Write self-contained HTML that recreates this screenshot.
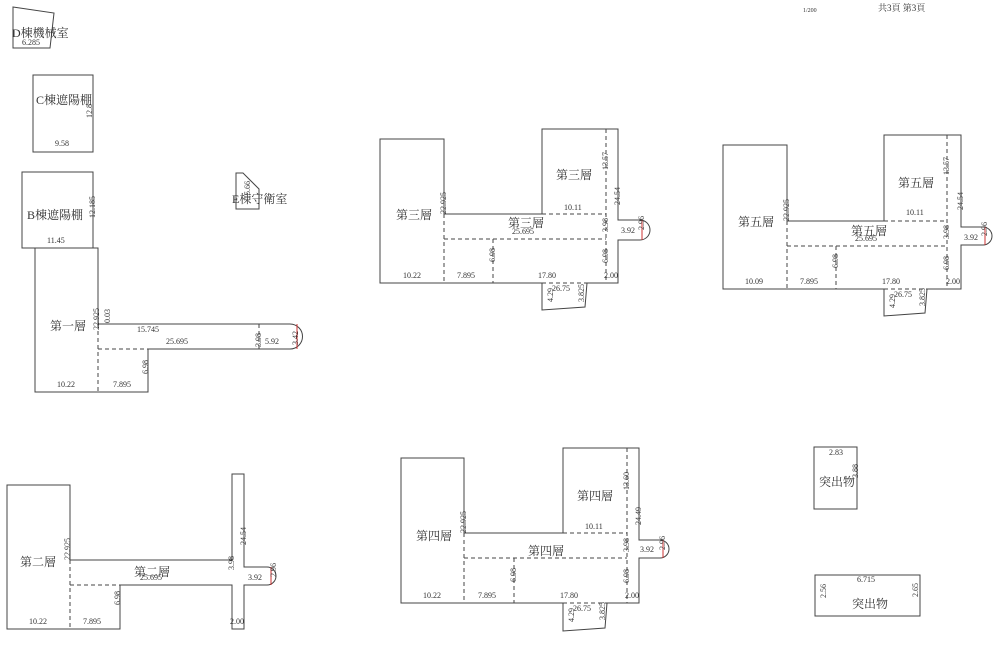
<!DOCTYPE html>
<html><head><meta charset="utf-8"><style>
html,body{margin:0;padding:0;background:#fff;width:1000px;height:646px;overflow:hidden}
svg{display:block}
text{font-family:"Liberation Serif","Noto Serif CJK SC","Noto Sans CJK TC",serif;fill:#333}
.s{fill:none;stroke:#444;stroke-width:1}
.d{fill:none;stroke:#444;stroke-width:1;stroke-dasharray:4,3}
.r{fill:none;stroke:#c33;stroke-width:1}
.n{font-size:8px}
.l{font-size:12px}
</style></head><body>
<svg width="1000" height="646" viewBox="0 0 1000 646" xmlns="http://www.w3.org/2000/svg">
<text x="803" y="12" font-size="6">1/200</text>
<text x="878" y="11" font-size="9">共3頁 第3頁</text>

<!-- D -->
<polygon class="s" points="13,7 54,13 50,48 13,48"/>
<text x="12" y="37" class="l">D棟機械室</text>
<text x="22" y="45" class="n">6.285</text>
<!-- C -->
<rect class="s" x="33" y="75" width="60" height="77"/>
<text x="36" y="104" class="l">C棟遮陽棚</text>
<text x="55" y="146" class="n">9.58</text>
<text x="92" y="118" class="n" transform="rotate(-90 92 118)">12.8</text>
<!-- E -->
<polygon class="s" points="236,173 243,173 259,189 259,209 236,209"/>
<text x="232" y="203" class="l">E棟守衛室</text>
<text x="250" y="195" class="n" transform="rotate(-90 250 195)">5.66</text>

<!-- First floor -->
<rect class="s" x="22" y="172" width="71" height="76"/>
<path class="s" d="M93,248 L98,248 L98,324 L290,324 A12.5,12.5 0 0 1 290,349 L148,349 L148,392 L35,392 L35,248"/>
<line class="d" x1="35" y1="248" x2="93" y2="248"/>
<line class="d" x1="98" y1="324" x2="98" y2="392"/>
<line class="d" x1="98" y1="349" x2="148" y2="349"/>
<line class="d" x1="259" y1="324" x2="259" y2="349"/>
<line class="r" x1="297" y1="324" x2="297" y2="349"/>
<text x="27" y="219" class="l">B棟遮陽棚</text>
<text x="47" y="243" class="n">11.45</text>
<text x="95" y="218" class="n" transform="rotate(-90 95 218)">12.185</text>
<text x="50" y="330" class="l">第一層</text>
<text x="99" y="330" class="n" transform="rotate(-90 99 330)">22.925</text>
<text x="110" y="323" class="n" transform="rotate(-90 110 323)">0.03</text>
<text x="137" y="332" class="n">15.745</text>
<text x="166" y="344" class="n">25.695</text>
<text x="261" y="347" class="n" transform="rotate(-90 261 347)">3.98</text>
<text x="265" y="344" class="n">5.92</text>
<text x="298" y="345" class="n" transform="rotate(-90 298 345)">3.42</text>
<text x="148" y="374" class="n" transform="rotate(-90 148 374)">6.98</text>
<text x="57" y="387" class="n">10.22</text>
<text x="113" y="387" class="n">7.895</text>

<!-- Second floor -->
<path class="s" d="M7,485 L70,485 L70,560 L232,560 L232,474 L244,474 L244,567 L267,567 A9,9 0 0 1 267,585 L244,585 L244,629 L232,629 L232,585 L120,585 L120,629 L7,629 Z"/>
<line class="d" x1="70" y1="560" x2="70" y2="629"/>
<line class="d" x1="70" y1="585" x2="120" y2="585"/>
<line class="r" x1="271" y1="567" x2="271" y2="585"/>
<text x="20" y="566" class="l">第二層</text>
<text x="134" y="576" class="l">第二層</text>
<text x="140" y="580" class="n">25.695</text>
<text x="70" y="560" class="n" transform="rotate(-90 70 560)">22.925</text>
<text x="120" y="605" class="n" transform="rotate(-90 120 605)">6.98</text>
<text x="234" y="570" class="n" transform="rotate(-90 234 570)">3.98</text>
<text x="246" y="545" class="n" transform="rotate(-90 246 545)">24.54</text>
<text x="248" y="580" class="n">3.92</text>
<text x="276" y="577" class="n" transform="rotate(-90 276 577)">2.96</text>
<text x="29" y="624" class="n">10.22</text>
<text x="83" y="624" class="n">7.895</text>
<text x="230" y="624" class="n">2.00</text>

<!-- Third floor -->
<path class="s" d="M380,139 L444,139 L444,214 L542,214 L542,129 L618,129 L618,220 L640,220 A10,10 0 0 1 640,240 L618,240 L618,283 L587,283 L585,307 L542,310 L542,283 L380,283 Z"/>
<line class="d" x1="444" y1="214" x2="444" y2="283"/>
<line class="d" x1="606" y1="129" x2="606" y2="283"/>
<line class="d" x1="542" y1="214" x2="606" y2="214"/>
<line class="d" x1="444" y1="239" x2="606" y2="239"/>
<line class="d" x1="493" y1="239" x2="493" y2="283"/>
<line class="d" x1="542" y1="283" x2="587" y2="283"/>
<line class="r" x1="642" y1="220" x2="642" y2="240"/>
<text x="396" y="219" class="l">第三層</text>
<text x="556" y="179" class="l">第三層</text>
<text x="508" y="227" class="l">第三層</text>
<text x="512" y="234" class="n">25.695</text>
<text x="446" y="214" class="n" transform="rotate(-90 446 214)">22.925</text>
<text x="608" y="170" class="n" transform="rotate(-90 608 170)">13.57</text>
<text x="620" y="205" class="n" transform="rotate(-90 620 205)">24.54</text>
<text x="608" y="232" class="n" transform="rotate(-90 608 232)">3.98</text>
<text x="608" y="263" class="n" transform="rotate(-90 608 263)">6.98</text>
<text x="495" y="262" class="n" transform="rotate(-90 495 262)">6.98</text>
<text x="564" y="210" class="n">10.11</text>
<text x="621" y="233" class="n">3.92</text>
<text x="644" y="230" class="n" transform="rotate(-90 644 230)">2.96</text>
<text x="403" y="278" class="n">10.22</text>
<text x="457" y="278" class="n">7.895</text>
<text x="538" y="278" class="n">17.80</text>
<text x="604" y="278" class="n">2.00</text>
<text x="552" y="291" class="n">26.75</text>
<text x="553" y="302" class="n" transform="rotate(-90 553 302)">4.29</text>
<text x="584" y="302" class="n" transform="rotate(-90 584 302)">3.825</text>

<!-- Fifth floor -->
<path class="s" d="M723,145 L787,145 L787,221 L884,221 L884,135 L961,135 L961,227 L983,227 A9,9 0 0 1 983,245 L961,245 L961,289 L927,289 L925,313 L884,316 L884,289 L723,289 Z"/>
<line class="d" x1="787" y1="221" x2="787" y2="289"/>
<line class="d" x1="947" y1="135" x2="947" y2="289"/>
<line class="d" x1="884" y1="221" x2="947" y2="221"/>
<line class="d" x1="787" y1="246" x2="947" y2="246"/>
<line class="d" x1="836" y1="246" x2="836" y2="289"/>
<line class="d" x1="884" y1="289" x2="927" y2="289"/>
<line class="r" x1="985" y1="227" x2="985" y2="245"/>
<text x="738" y="226" class="l">第五層</text>
<text x="898" y="187" class="l">第五層</text>
<text x="851" y="235" class="l">第五層</text>
<text x="855" y="241" class="n">25.695</text>
<text x="789" y="221" class="n" transform="rotate(-90 789 221)">22.925</text>
<text x="949" y="175" class="n" transform="rotate(-90 949 175)">13.57</text>
<text x="963" y="210" class="n" transform="rotate(-90 963 210)">24.54</text>
<text x="949" y="239" class="n" transform="rotate(-90 949 239)">3.98</text>
<text x="949" y="270" class="n" transform="rotate(-90 949 270)">6.98</text>
<text x="838" y="268" class="n" transform="rotate(-90 838 268)">6.98</text>
<text x="906" y="215" class="n">10.11</text>
<text x="964" y="240" class="n">3.92</text>
<text x="987" y="236" class="n" transform="rotate(-90 987 236)">2.96</text>
<text x="745" y="284" class="n">10.09</text>
<text x="800" y="284" class="n">7.895</text>
<text x="882" y="284" class="n">17.80</text>
<text x="946" y="284" class="n">2.00</text>
<text x="894" y="297" class="n">26.75</text>
<text x="895" y="308" class="n" transform="rotate(-90 895 308)">4.29</text>
<text x="925" y="306" class="n" transform="rotate(-90 925 306)">3.825</text>

<!-- Fourth floor -->
<path class="s" d="M401,458 L464,458 L464,533 L563,533 L563,448 L639,448 L639,540 L660,540 A9,9 0 0 1 660,558 L639,558 L639,603 L607,603 L605,628 L563,631 L563,603 L401,603 Z"/>
<line class="d" x1="464" y1="533" x2="464" y2="603"/>
<line class="d" x1="627" y1="448" x2="627" y2="603"/>
<line class="d" x1="563" y1="533" x2="627" y2="533"/>
<line class="d" x1="464" y1="558" x2="627" y2="558"/>
<line class="d" x1="514" y1="558" x2="514" y2="603"/>
<line class="d" x1="563" y1="603" x2="607" y2="603"/>
<line class="r" x1="663" y1="540" x2="663" y2="558"/>
<text x="416" y="540" class="l">第四層</text>
<text x="577" y="500" class="l">第四層</text>
<text x="528" y="555" class="l">第四層</text>
<text x="466" y="533" class="n" transform="rotate(-90 466 533)">22.925</text>
<text x="629" y="490" class="n" transform="rotate(-90 629 490)">13.60</text>
<text x="641" y="525" class="n" transform="rotate(-90 641 525)">24.49</text>
<text x="629" y="552" class="n" transform="rotate(-90 629 552)">3.98</text>
<text x="629" y="583" class="n" transform="rotate(-90 629 583)">6.98</text>
<text x="516" y="582" class="n" transform="rotate(-90 516 582)">6.98</text>
<text x="585" y="529" class="n">10.11</text>
<text x="640" y="552" class="n">3.92</text>
<text x="665" y="550" class="n" transform="rotate(-90 665 550)">2.96</text>
<text x="423" y="598" class="n">10.22</text>
<text x="478" y="598" class="n">7.895</text>
<text x="560" y="598" class="n">17.80</text>
<text x="625" y="598" class="n">2.00</text>
<text x="573" y="611" class="n">26.75</text>
<text x="574" y="622" class="n" transform="rotate(-90 574 622)">4.29</text>
<text x="605" y="620" class="n" transform="rotate(-90 605 620)">3.825</text>

<!-- 突出物 -->
<rect class="s" x="814" y="447" width="43" height="62"/>
<text x="829" y="455" class="n">2.83</text>
<text x="819" y="486" class="l">突出物</text>
<text x="858" y="478" class="n" transform="rotate(-90 858 478)">3.88</text>
<rect class="s" x="815" y="575" width="105" height="41"/>
<text x="857" y="582" class="n">6.715</text>
<text x="852" y="608" class="l">突出物</text>
<text x="826" y="598" class="n" transform="rotate(-90 826 598)">2.56</text>
<text x="918" y="597" class="n" transform="rotate(-90 918 597)">2.65</text>
</svg>
</body></html>
